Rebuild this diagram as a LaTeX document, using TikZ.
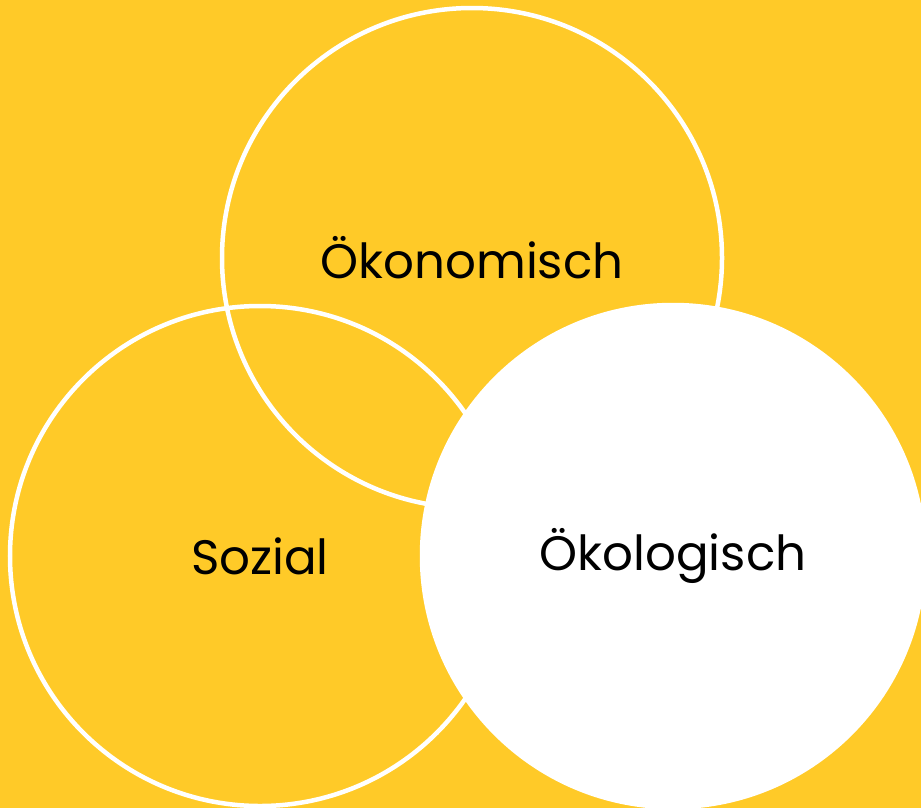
\documentclass[tikz,border=0pt]{standalone}
\usepackage{fontspec}
\setmainfont{Poppins}
\usetikzlibrary{positioning}
\definecolor{sunyellow}{RGB}{255,202,40}

\begin{document}
\begin{tikzpicture}
  [
  font=\fontsize{27.5}{32}\selectfont, line width=0.09cm,
  ring/.style={circle, minimum size=10cm, inner sep=0pt, draw=white},
  solidring/.style={circle, minimum size=10.04cm, inner sep=0pt, draw=white, fill=white}
  ]

\fill[sunyellow] (0,0) rectangle (18.42,-16.16);
\useasboundingbox (0,0) rectangle (18.42,-16.16);

\node[ring] (oekonomisch) at (9.44,-5.16) {Ökonomisch};
\node[ring] (sozial) at (5.2,-11.12) {Sozial};
\node[solidring] (oekologisch) at (13.46,-11.12) {Ökologisch};
\end{tikzpicture}
\end{document}
